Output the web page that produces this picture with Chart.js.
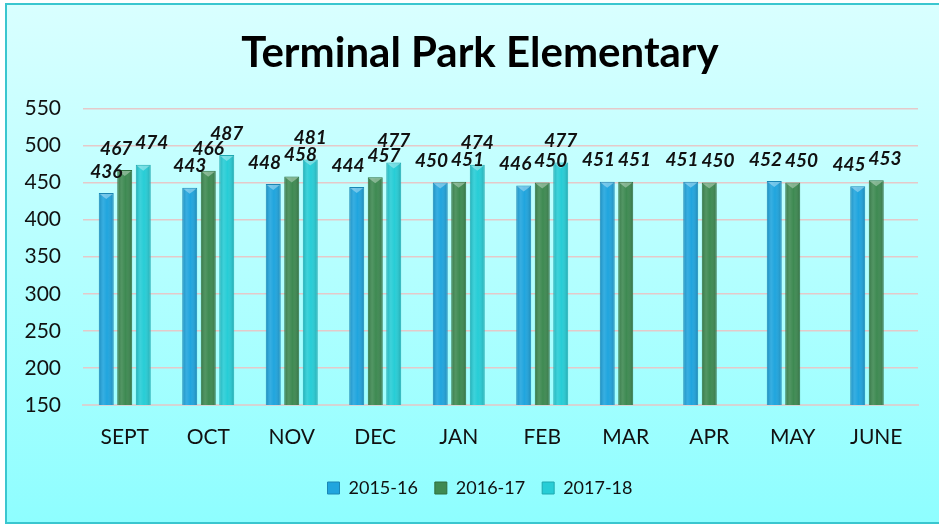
<!DOCTYPE html>
<html>
<head>
<meta charset="utf-8">
<script src="https://cdn.jsdelivr.net/npm/chart.js@4.4.1/dist/chart.umd.min.js"></script>
<style>
  html, body { margin: 0; padding: 0; background: #ffffff; }
  #wrap { position: relative; width: 939px; height: 524px; overflow: hidden; background: #ffffff; }
  #frame { position: absolute; left: 5px; top: 3px; width: 950px; height: 517px;
           border: 2px solid #3ac6cf; background: linear-gradient(to bottom, #d9ffff 0%, #b5ffff 50%, #8efeff 100%); }
  #c { position: absolute; left: 0; top: 0; }
</style>
</head>
<body>
<div id="wrap">
  <div id="frame"></div>
  <canvas id="c" width="939" height="524"></canvas>
</div>
<script>
const categories = ["SEPT", "OCT", "NOV", "DEC", "JAN", "FEB", "MAR", "APR", "MAY", "JUNE"];
const seriesNames = ["2015-16", "2016-17", "2017-18"];
const values2015 = [436, 443, 448, 444, 450, 446, 451, 451, 452, 445];
const values2016 = [467, 466, 458, 457, 451, 450, 451, 450, 450, 453];
const values2017 = [474, 487, 481, 477, 474, 477, null, null, null, null];
const yTicks = [150, 200, 250, 300, 350, 400, 450, 500, 550];

const colors = ["#20a5de", "#3e8a52", "#27cdd6"];
const borders = ["#1a86b5", "#2f6e3f", "#1fa9b1"];
const FONT = 'Lato, "Open Sans", sans-serif';

// centre title and legend on the frame rather than on the padded layout box
const centerShift = {
  id: 'centerShift',
  afterLayout(chart) {
    [chart.legend, chart.titleBlock].forEach(b => {
      if (b) { b.left += 21; b.right += 21; }
    });
  }
};

// subtle cylinder shading on each bar, using the bar elements' own geometry
const shadePlugin = {
  id: 'barShade',
  afterDatasetsDraw(chart) {
    const ctx = chart.ctx;
    const bottom = chart.chartArea.bottom;
    ctx.save();
    chart.data.datasets.forEach((ds, i) => {
      chart.getDatasetMeta(i).data.forEach((el, j) => {
        if (ds.data[j] === null) return;
        const left = el.x - el.width / 2, right = el.x + el.width / 2;
        const base = Math.min(el.base, bottom);
        const g = ctx.createLinearGradient(left, 0, right, 0);
        g.addColorStop(0, 'rgba(0,0,0,0.16)');
        g.addColorStop(0.3, 'rgba(255,255,255,0.10)');
        g.addColorStop(0.55, 'rgba(255,255,255,0.0)');
        g.addColorStop(1, 'rgba(0,0,0,0.20)');
        ctx.fillStyle = g;
        ctx.fillRect(left + 1, el.y + 1, el.width - 2, base - el.y - 1);
        ctx.fillStyle = 'rgba(255,255,255,0.35)';
        ctx.beginPath();
        ctx.moveTo(left + 1, el.y + 1);
        ctx.lineTo(right - 1, el.y + 1);
        ctx.lineTo(el.x, el.y + 6);
        ctx.closePath();
        ctx.fill();
      });
    });
    ctx.restore();
  }
};

const labelPlugin = {
  id: 'valueLabels',
  afterDatasetsDraw(chart) {
    const ctx = chart.ctx;
    ctx.save();
    ctx.font = 'italic bold 19px ' + FONT;
    ctx.fillStyle = '#111111';
    ctx.textAlign = 'center';
    ctx.textBaseline = 'bottom';
    const h = 14;
    categories.forEach((c, j) => {
      const boxes = [];
      chart.data.datasets.forEach((ds, i) => {
        const v = ds.data[j];
        if (v === null || v === undefined) return;
        const el = chart.getDatasetMeta(i).data[j];
        const t = String(v);
        boxes.push({ t, cx: el.x, y: el.y - 12, w: ctx.measureText(t).width });
      });
      for (let it = 0; it < 6; it++) {
        for (let k = 0; k < boxes.length - 1; k++) {
          const a = boxes[k], b = boxes[k + 1];
          const ov = (a.cx + a.w / 2 + 3) - (b.cx - b.w / 2);
          if (ov > 0 && Math.abs(a.y - b.y) < h) { a.cx -= ov / 2; b.cx += ov / 2; }
        }
      }
      boxes.forEach(b => ctx.fillText(b.t, b.cx, b.y));
    });
    ctx.restore();
  }
};

new Chart(document.getElementById('c'), {
  type: 'bar',
  data: {
    labels: categories,
    datasets: [values2015, values2016, values2017].map((d, i) => ({
      label: seriesNames[i],
      data: d,
      backgroundColor: colors[i],
      borderColor: borders[i],
      borderWidth: 1,
      categoryPercentage: 0.665,
      barPercentage: 0.81
    }))
  },
  options: {
    responsive: false,
    animation: false,
    devicePixelRatio: 1,
    layout: { padding: { left: 0, right: 21, top: 0, bottom: 17 } },
    plugins: {
      title: {
        display: true,
        text: 'Terminal Park Elementary',
        color: '#000000',
        font: { family: FONT, size: 42, weight: 'bold' },
        padding: { top: 28, bottom: 30 }
      },
      legend: {
        position: 'bottom',
        labels: {
          color: '#111111',
          font: { family: FONT, size: 18 },
          boxWidth: 12, boxHeight: 12, padding: 17
        }
      },
      tooltip: { enabled: false }
    },
    scales: {
      x: {
        grid: { display: false },
        border: { display: true, color: '#d4d4d4', width: 2 },
        ticks: { color: '#111111', font: { family: FONT, size: 21 }, padding: 12, maxRotation: 0 },
        afterFit(s) { s.height = 57; }
      },
      y: {
        min: 150, max: 550,
        afterBuildTicks(s) { s.ticks = yTicks.map(v => ({ value: v })); },
        grid: { color: '#e5c9c9', lineWidth: 1.5, drawTicks: false },
        border: { display: false },
        ticks: { color: '#111111', font: { family: FONT, size: 21 }, padding: 22 },
        afterFit(s) { s.width = 83; }
      }
    }
  },
  plugins: [centerShift, shadePlugin, labelPlugin]
});
</script>
</body>
</html>
